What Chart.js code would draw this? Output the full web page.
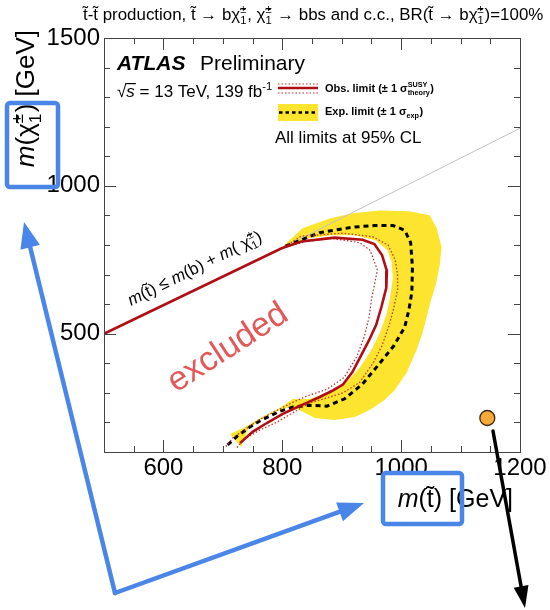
<!DOCTYPE html>
<html>
<head>
<meta charset="utf-8">
<script src="https://cdn.jsdelivr.net/npm/chart.js@4/dist/chart.umd.min.js"></script>
<style>
  html, body { margin: 0; padding: 0; background: #fff; }
</style>
</head>
<body>
<canvas id="canvas" width="550" height="610"></canvas>
<script>
// tick labels
var xTicks = [600, 800, 1000, 1200];
var yTicks = [500, 1000, 1500];

// observed limit, starting on the kinematic line  [m(stop), m(chargino)]
var obsLimit = [[500,500],[799,789],[832,812],[888,825],[935,818],[955,803],[968,765],[976,712],[975,655],
  [967,592],[958,530],[946,478],[934,432],[918,370],[902,328],[885,308],[863,286],[841,266],[820,247],
  [800,228],[774,198],[750,168],[729,130]];
var obsPlus = [[799,789],[832,830],[902,840],[952,828],[978,800],[990,750],[994,700],[994,650],[988,590],
  [980,530],[968,460],[953,402],[930,335],[902,300],[875,283],[846,266],[818,233],[791,201],[762,174],
  [734,141],[722,110]];
var obsMinus = [[799,789],[840,812],[885,822],[930,808],[948,782],[960,715],[955,665],[950,615],[946,556],
  [938,490],[925,421],[904,352],[875,312],[842,290],[818,268],[790,240],[762,210],[740,180],[717,148],[705,118]];
var expLimit = [[708,124],[725,155],[745,184],[762,205],[795,237],[818,252],[846,258],[875,255],[905,280],
  [935,330],[962,395],[988,460],[1006,522],[1013,580],[1018,640],[1019,725],[1016,808],[1006,850],
  [986,866],[955,866],[918,860],[863,842],[813,802],[800,792]];
var expBand = [[801,796],[834,857],[880,890],[918,907],[964,917],[1014,914],[1048,901],[1060,857],[1068,792],
  [1065,732],[1058,664],[1048,597],[1036,502],[1026,445],[1009,367],[989,309],[972,276],[947,242],
  [922,218],[888,208],[855,215],[829,242],[813,252],[787,235],[762,208],[742,174],[731,117],[712,161],
  [737,184],[766,218],[796,249],[818,279],[846,279],[880,303],[905,330],[930,384],[950,445],[964,502],
  [976,570],[982,630],[986,688],[984,742],[977,782],[957,816],[922,833],[880,833],[838,820],[813,803]];
var diagonal = [[800,790],[1200,1195]];
var marker = [[1145,215]];

var FONT = '"Liberation Sans", Arial, Helvetica, sans-serif';
var T = 't\u0303', X = '\u03C7\u0303';

function setFont(ctx, size, style, weight) {
  ctx.font = (style || '') + ' ' + (weight || '') + ' ' + size + 'px ' + FONT;
}

// draws (or just measures) a run of text with italic parts and super/subscripts
function rich(ctx, parts, x, y, size, weight, draw) {
  var cx = x;
  parts.forEach(function (p) {
    if (typeof p === 'string') p = { t: p };
    if (p.t !== undefined || p.i !== undefined) {
      var s = p.t !== undefined ? p.t : p.i;
      setFont(ctx, size, p.i !== undefined ? 'italic' : '', weight);
      if (draw) ctx.fillText(s, cx, y);
      cx += ctx.measureText(s).width;
    } else {
      var w = 0;
      setFont(ctx, size * 0.66, '', weight);
      if (p.sup) { if (draw) ctx.fillText(p.sup, cx, y - size * 0.42); w = ctx.measureText(p.sup).width; }
      if (p.sub) { if (draw) ctx.fillText(p.sub, cx, y + size * 0.25); w = Math.max(w, ctx.measureText(p.sub).width); }
      cx += w + size * 0.05;
    }
  });
  return cx - x;
}

function arrow(ctx, x0, y0, x1, y1, color, width, headLen, headW) {
  var a = Math.atan2(y1 - y0, x1 - x0);
  ctx.save();
  ctx.strokeStyle = color; ctx.fillStyle = color; ctx.lineWidth = width; ctx.lineCap = 'round';
  ctx.beginPath();
  ctx.moveTo(x0, y0);
  ctx.lineTo(x1 - Math.cos(a) * headLen * 0.7, y1 - Math.sin(a) * headLen * 0.7);
  ctx.stroke();
  ctx.translate(x1, y1); ctx.rotate(a);
  ctx.beginPath(); ctx.moveTo(0, 0); ctx.lineTo(-headLen, headW / 2); ctx.lineTo(-headLen, -headW / 2);
  ctx.closePath(); ctx.fill();
  ctx.restore();
}

function box(ctx, x, y, w, h) {
  ctx.save();
  ctx.strokeStyle = 'rgb(74,134,232)'; ctx.lineWidth = 4.5;
  ctx.beginPath();
  if (ctx.roundRect) ctx.roundRect(x, y, w, h, 3); else ctx.rect(x, y, w, h);
  ctx.stroke();
  ctx.restore();
}

var overlay = {
  id: 'overlay',
  afterDatasetsDraw: function (chart) {
    var ctx = chart.ctx, a = chart.chartArea, xs = chart.scales.x, ys = chart.scales.y, v, p, len;
    ctx.save();
    // frame and inward ticks on all four sides
    ctx.strokeStyle = '#444'; ctx.lineWidth = 1;
    ctx.strokeRect(Math.round(a.left) + 0.5, Math.round(a.top) + 0.5, Math.round(a.right - a.left), Math.round(a.bottom - a.top));
    ctx.beginPath();
    for (v = 500; v <= 1200; v += 50) {
      p = Math.round(xs.getPixelForValue(v)) + 0.5;
      len = xTicks.indexOf(v) >= 0 ? 12 : 6;
      ctx.moveTo(p, a.bottom); ctx.lineTo(p, a.bottom - len);
      ctx.moveTo(p, a.top); ctx.lineTo(p, a.top + len);
    }
    for (v = 100; v <= 1500; v += 100) {
      p = Math.round(ys.getPixelForValue(v)) + 0.5;
      len = yTicks.indexOf(v) >= 0 ? 12 : 6;
      ctx.moveTo(a.left, p); ctx.lineTo(a.left + len, p);
      ctx.moveTo(a.right, p); ctx.lineTo(a.right - len, p);
    }
    ctx.stroke();

    ctx.fillStyle = '#000'; ctx.textAlign = 'left'; ctx.textBaseline = 'alphabetic';
    // title
    rich(ctx, [T + '-' + T + ' production, ' + T + ' \u2192 b' + X, { sup: '\u00B1', sub: '1' }, ', ' + X,
      { sup: '\u00B1', sub: '1' }, ' \u2192 bbs and c.c., BR(' + T + ' \u2192 b' + X, { sup: '\u00B1', sub: '1' },
      ')=100%'], 83, 20, 16.9, '', true);

    // ATLAS label
    setFont(ctx, 21, 'italic', 'bold');
    ctx.fillText('ATLAS', 117, 70);
    setFont(ctx, 21, '', '');
    ctx.fillText('Preliminary', 200, 70);
    setFont(ctx, 17, '', '');
    var wr = ctx.measureText('\u221A').width;
    setFont(ctx, 17, 'italic', '');
    var wsS = ctx.measureText('s').width;
    rich(ctx, ['\u221A', { i: 's' }, ' = 13 TeV, 139 fb', { sup: '-1' }], 117, 97, 17, '', true);
    ctx.fillRect(117 + wr - 1, 83, wsS + 2, 1.2);

    // legend
    ctx.strokeStyle = 'rgb(175,15,20)'; ctx.lineWidth = 2.5;
    ctx.beginPath(); ctx.moveTo(278, 88); ctx.lineTo(318, 88); ctx.stroke();
    ctx.lineWidth = 1; ctx.setLineDash([1.5, 2]); ctx.strokeStyle = 'rgb(200,50,50)';
    ctx.beginPath(); ctx.moveTo(278, 84); ctx.lineTo(318, 84); ctx.moveTo(278, 93); ctx.lineTo(318, 93); ctx.stroke();
    ctx.setLineDash([]);
    ctx.fillStyle = 'rgb(253,228,47)';
    ctx.fillRect(278, 104, 40, 17);
    ctx.strokeStyle = '#000'; ctx.lineWidth = 2.5; ctx.setLineDash([3.5, 3]);
    ctx.beginPath(); ctx.moveTo(279, 112.5); ctx.lineTo(318, 112.5); ctx.stroke();
    ctx.setLineDash([]);
    ctx.fillStyle = '#000';
    rich(ctx, ['Obs. limit (\u00B1 1 \u03C3', { sup: 'SUSY', sub: 'theory' }, ')'], 325, 92, 11, 'bold', true);
    rich(ctx, ['Exp. limit (\u00B1 1 \u03C3', { sub: 'exp' }, ')'], 325, 115, 11, 'bold', true);
    setFont(ctx, 17, '', '');
    ctx.fillText('All limits at 95% CL', 275, 143);

    // kinematic limit text along the line
    ctx.save();
    ctx.translate(131, 306); ctx.rotate(-26.5 * Math.PI / 180);
    rich(ctx, [{ i: 'm' }, '(' + T + ') \u2264 ', { i: 'm' }, '(b) + ', { i: 'm' }, '( ' + X, { sup: '\u00B1', sub: '1' }, ')'],
      0, 0, 16.8, '', true);
    ctx.restore();

    // excluded
    ctx.save();
    ctx.translate(233, 356); ctx.rotate(-33 * Math.PI / 180);
    setFont(ctx, 34, '', '');
    ctx.fillStyle = 'rgb(226,88,88)'; ctx.textAlign = 'center';
    ctx.fillText('excluded', 0, 0);
    ctx.restore();

    // axis titles
    ctx.fillStyle = '#000';
    var xt = [{ i: 'm' }, '(' + T + ') [GeV]'];
    var w = rich(ctx, xt, 0, 0, 25, '', false);
    rich(ctx, xt, 513 - w, 507, 25, '', true);
    var yt = [{ i: 'm' }, '(' + X, { sup: '\u00B1', sub: '1' }, ') [GeV]'];
    w = rich(ctx, yt, 0, 0, 26, '', false);
    ctx.save();
    ctx.translate(34, 30); ctx.rotate(-Math.PI / 2);
    rich(ctx, yt, -w, 0, 26, '', true);
    ctx.restore();
    ctx.restore();
  },
  afterDraw: function (chart) {
    var ctx = chart.ctx;
    box(ctx, 7, 103, 51, 84);
    box(ctx, 383, 473, 79, 51);
    arrow(ctx, 115, 593, 24, 222, 'rgb(74,134,232)', 4.5, 26, 20);
    arrow(ctx, 115, 593, 364, 503, 'rgb(74,134,232)', 4.5, 26, 20);
    arrow(ctx, 493, 431, 525, 608, '#000', 3.5, 22, 15);
  }
};

function series(data, color, width, dash, order) {
  return {
    data: data, borderColor: color, borderWidth: width, borderDash: dash || [],
    pointRadius: 0, fill: false, tension: 0, order: order
  };
}

function plainLabel(v) { return String(v); }

var ctx = document.getElementById('canvas').getContext('2d');
var chart = new Chart(ctx, {
  type: 'line',
  data: {
    datasets: [
      { data: marker, showLine: false, pointRadius: 7.5, pointBackgroundColor: 'rgb(247,168,58)',
        pointBorderColor: 'rgb(60,40,15)', pointBorderWidth: 1.3, order: 0 },
      series(obsLimit, 'rgb(175,15,20)', 2.6, [], 1),
      series(obsPlus, 'rgb(200,55,40)', 1.3, [1.5, 2], 2),
      series(obsMinus, 'rgb(175,40,50)', 1.2, [1.5, 2], 3),
      series(expLimit, '#000', 3, [5, 4], 4),
      series(diagonal, 'rgb(195,195,195)', 1, [], 5),
      { data: expBand, borderWidth: 0, borderColor: 'rgba(0,0,0,0)', backgroundColor: 'rgb(253,228,47)',
        fill: 'shape', pointRadius: 0, tension: 0, order: 6 }
    ]
  },
  options: {
    responsive: false,
    animation: false,
    layout: { padding: { left: 0, right: 30, top: 38, bottom: 0 } },
    plugins: { legend: { display: false }, tooltip: { enabled: false }, title: { display: false } },
    scales: {
      x: {
        type: 'linear', min: 500, max: 1200,
        afterFit: function (s) { s.height = 158; },
        afterBuildTicks: function (s) { s.ticks = xTicks.map(function (v) { return { value: v }; }); },
        grid: { display: false, drawTicks: false },
        border: { display: false },
        ticks: { font: { family: FONT, size: 24 }, color: '#000', padding: 2, maxRotation: 0, autoSkip: false,
          callback: plainLabel }
      },
      y: {
        type: 'linear', min: 100, max: 1500,
        afterFit: function (s) { s.width = 104; },
        afterBuildTicks: function (s) { s.ticks = yTicks.map(function (v) { return { value: v }; }); },
        grid: { display: false, drawTicks: false },
        border: { display: false },
        ticks: { font: { family: FONT, size: 24 }, color: '#000', padding: 4, autoSkip: false,
          callback: plainLabel }
      }
    }
  },
  plugins: [overlay]
});
</script>
</body>
</html>
